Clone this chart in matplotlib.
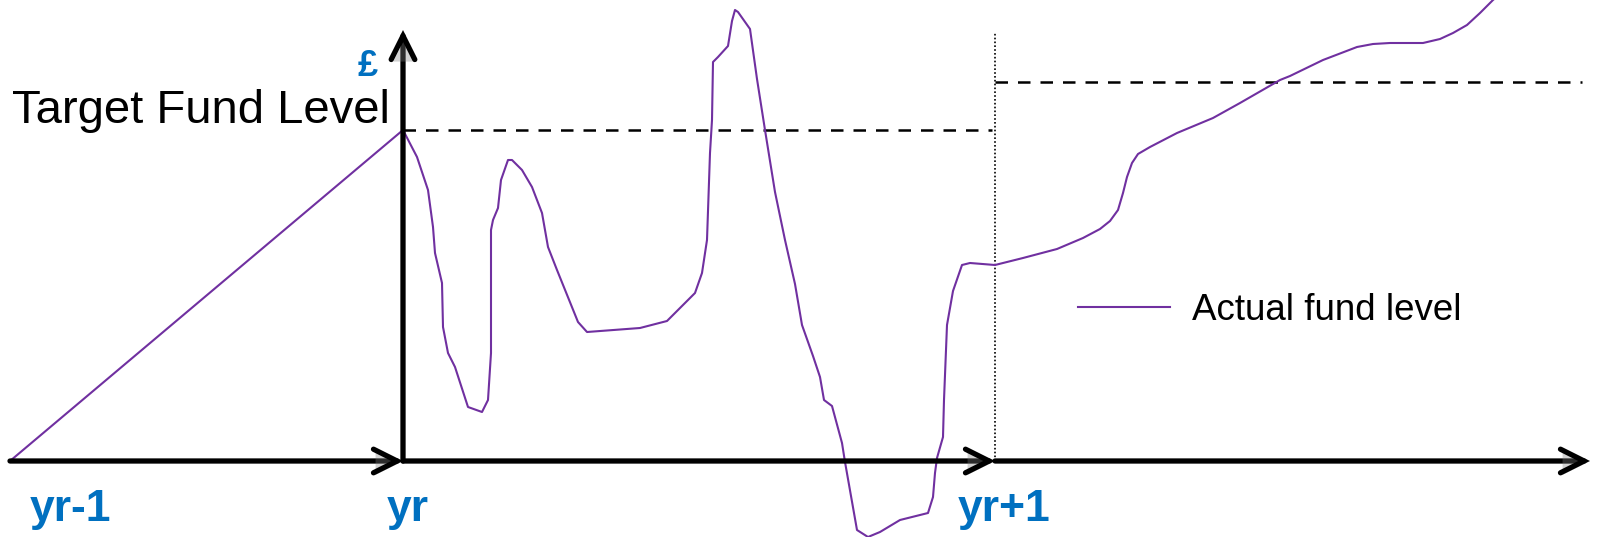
import matplotlib
matplotlib.use("Agg")
import matplotlib.pyplot as plt
import matplotlib.patheffects as pe

plt.rcParams['font.family'] = ['Liberation Sans', 'DejaVu Sans']

# horizontal position (drawing units) and fund level of the actual fund curve
fund_x = [10, 403, 417, 428, 433, 435, 442, 443, 448, 455, 468, 482, 488, 491, 491,
          493, 498, 501, 508, 512, 522, 532, 542, 548, 557, 578, 587, 640, 667, 695,
          702, 707, 710, 712, 713, 718, 728, 732, 735, 738, 750, 757, 765, 775, 785,
          795, 802, 813, 820, 824, 832, 842, 845, 857, 868, 880, 900, 928, 933, 935,
          937, 943, 944, 947, 953, 962, 970, 995, 1023, 1057, 1083, 1100, 1110, 1118,
          1123, 1127, 1132, 1138, 1150, 1177, 1213, 1240, 1280, 1290, 1323, 1357, 1373,
          1390, 1423, 1440, 1453, 1467, 1480, 1493, 1505]
fund_level = [0, 331, 304, 271, 234, 208, 178, 134, 108, 94, 54, 49, 61, 108, 231,
              241, 253, 281, 301, 301, 291, 274, 248, 214, 191, 139, 129, 133, 140, 168,
              188, 221, 308, 341, 399, 404, 415, 440, 451, 449, 432, 382, 331, 269, 221,
              177, 136, 105, 84, 61, 55, 18, -1, -69, -76, -71, -59, -52, -36, -12,
              3, 24, 61, 136, 170, 196, 198, 196, 203, 212, 223, 232, 240, 251,
              268, 284, 298, 307, 314, 328, 343, 358, 381, 385, 401, 414, 417,
              418, 418, 422, 428, 436, 448, 461, 471]

year_labels = ['yr-1', 'yr', 'yr+1']
year_x = [10, 403, 995]
label_x = [30, 387, 958]
axis_end = 1590
axis_top = 431

target_levels = [331, 379]
target_spans = [(403, 992), (995, 1582)]

purple = '#7030A0'
blue = '#0070C0'

fig = plt.figure(figsize=(15.98, 5.37), dpi=100)
ax = fig.add_axes([0, 0, 1, 1])
ax.set_xlim(0, 1598)
ax.set_ylim(-76, 461)
ax.axis('off')

shadow = [pe.SimplePatchShadow(offset=(1.5, -1.5), shadow_rgbFace='gray', alpha=0.35), pe.Normal()]
arrow_style = '->,head_length=1.7,head_width=0.85'

def arrow(start, end):
    a = ax.annotate('', xy=end, xytext=start,
                    arrowprops=dict(arrowstyle=arrow_style, lw=3.8, color='black',
                                    shrinkA=0, shrinkB=0, mutation_scale=10,
                                    capstyle='round', joinstyle='miter'),
                    zorder=5)
    a.arrow_patch.set_path_effects(shadow)
    return a

# time axis, one arrow per year interval
stops = year_x + [axis_end]
for i in range(len(stops) - 1):
    arrow((stops[i], 0), (stops[i + 1], 0))

# money axis
arrow((year_x[1], 0), (year_x[1], axis_top))

# year boundary
ax.plot([year_x[2], year_x[2]], [0, 429], color='black', lw=1.2, linestyle=(0, (1, 1.3)), zorder=2)

# target levels
for lvl, (x0, x1) in zip(target_levels, target_spans):
    ax.plot([x0, x1], [lvl, lvl], color='black', lw=1.8, dashes=(5, 4), zorder=2)

line, = ax.plot(fund_x, fund_level, color=purple, lw=1.5, zorder=3, label='Actual fund level')

for lab, x in zip(year_labels, label_x):
    ax.text(x, -60, lab, color=blue, fontsize=32, fontweight='bold', ha='left', va='baseline')

ax.text(12, 338, 'Target Fund Level', fontsize=34, ha='left', va='baseline')
ax.text(368, 385, '£', color=blue, fontsize=26, fontweight='bold', ha='center', va='baseline')

ax.legend(handles=[line], loc='center left', bbox_to_anchor=(1078, 151),
          bbox_transform=ax.transData, frameon=False, fontsize=26.5,
          handlelength=2.5, handletextpad=0.6, borderpad=0, borderaxespad=0)

fig.savefig('out.png', dpi=100)
